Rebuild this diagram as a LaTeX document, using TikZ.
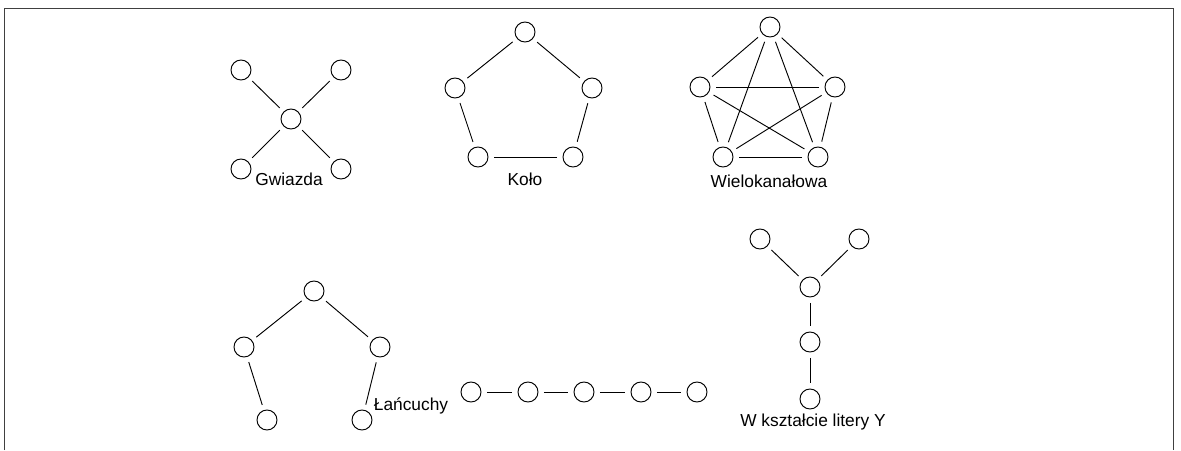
\documentclass[tikz,border=0pt]{standalone}
\usepackage{fontspec}
\setmainfont{Liberation Sans}
\tikzset{link/.style={shorten <=4pt,shorten >=4pt}}
\begin{document}
\begin{tikzpicture}
    [x=0.75pt,y=-0.75pt,inner sep=0pt,minimum size=15pt,line width=0.7pt,
     font=\fontsize{13pt}{15pt}\selectfont]

    \useasboundingbox (0,0) rectangle (1181,450);

    % frame:
    \draw [black!75] (4,450) -- (4,8) -- (1173,8) -- (1173,450);

    % star:
    \node (s0) at (291,119) [circle,draw] {};
    \node (s1) at (241,70) [circle,draw] {};
    \node (s2) at (341,70) [circle,draw] {};
    \node (s3) at (241,169) [circle,draw] {};
    \node (s4) at (341,169) [circle,draw] {};
    \node (sname) at (289,185) [anchor=base] {Gwiazda};

    % circle:
    \node (c1) at (525,32) [circle,draw] {};
    \node (c2) at (592,88) [circle,draw] {};
    \node (c3) at (573,157) [circle,draw] {};
    \node (c4) at (478,157) [circle,draw] {};
    \node (c5) at (455,88) [circle,draw] {};
    \node (cname) at (525,185) [anchor=base] {Koło};

    % all-channel:
    \node (w1) at (770,27) [circle,draw] {};
    \node (w2) at (835,87) [circle,draw] {};
    \node (w3) at (818,157) [circle,draw] {};
    \node (w4) at (723,157) [circle,draw] {};
    \node (w5) at (700,87) [circle,draw] {};
    \node (wname) at (769,187) [anchor=base] {Wielokanałowa};

    % chains:
    \node (l1) at (314,291) [circle,draw] {};
    \node (l2) at (380,347) [circle,draw] {};
    \node (l3) at (362,420) [circle,draw] {};
    \node (l4) at (267,420) [circle,draw] {};
    \node (l5) at (244,347) [circle,draw] {};
    \node (lname) at (411,410) [anchor=base] {Łańcuchy};

    \node (h1) at (471,392) [circle,draw] {};
    \node (h2) at (528,392) [circle,draw] {};
    \node (h3) at (584,392) [circle,draw] {};
    \node (h4) at (641,392) [circle,draw] {};
    \node (h5) at (697,392) [circle,draw] {};

    % Y shape:
    \node (y1) at (760,239) [circle,draw] {};
    \node (y2) at (859,239) [circle,draw] {};
    \node (y3) at (810,287) [circle,draw] {};
    \node (y4) at (810,342) [circle,draw] {};
    \node (y5) at (810,399) [circle,draw] {};
    \node (yname) at (813,426) [anchor=base] {W kształcie litery Y};

    % connect nodes:

    \draw [link] (s0) to (s1);
    \draw [link] (s0) to (s2);
    \draw [link] (s0) to (s3);
    \draw [link] (s0) to (s4);

    \draw [link] (c1) to (c2);
    \draw [link] (c2) to (c3);
    \draw [link] (c3) to (c4);
    \draw [link] (c4) to (c5);
    \draw [link] (c5) to (c1);

    \draw [link] (w1) to (w2);
    \draw [link] (w1) to (w3);
    \draw [link] (w1) to (w4);
    \draw [link] (w1) to (w5);
    \draw [link] (w2) to (w3);
    \draw [link] (w2) to (w4);
    \draw [link] (w2) to (w5);
    \draw [link] (w3) to (w4);
    \draw [link] (w3) to (w5);
    \draw [link] (w4) to (w5);

    \draw [link] (l1) to (l2);
    \draw [link] (l2) to (l3);
    \draw [link] (l1) to (l5);
    \draw [link] (l5) to (l4);

    \draw [link] (h1) to (h2);
    \draw [link] (h2) to (h3);
    \draw [link] (h3) to (h4);
    \draw [link] (h4) to (h5);

    \draw [link] (y1) to (y3);
    \draw [link] (y2) to (y3);
    \draw [link] (y3) to (y4);
    \draw [link] (y4) to (y5);

  \end{tikzpicture}
\end{document}
